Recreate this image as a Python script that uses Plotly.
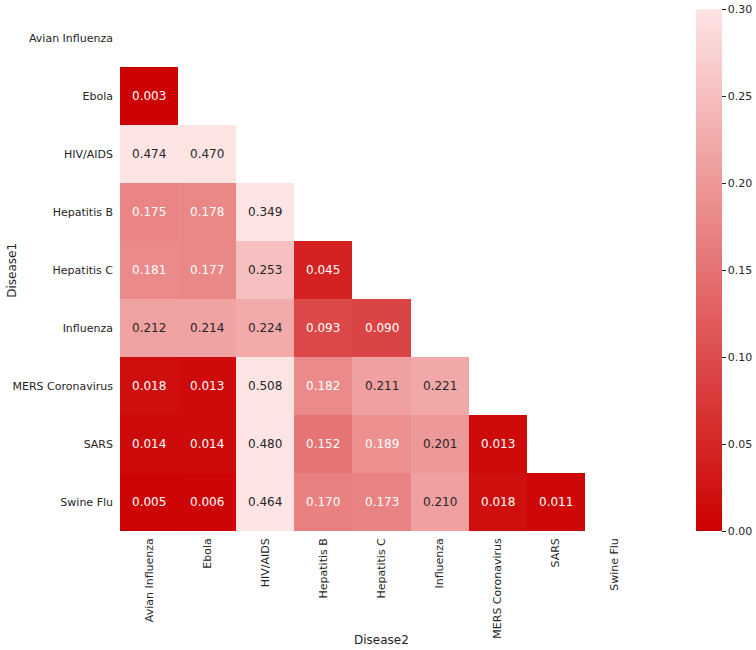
import plotly.graph_objects as go
import numpy as np

diseases = ["Avian Influenza", "Ebola", "HIV/AIDS", "Hepatitis B", "Hepatitis C",
            "Influenza", "MERS Coronavirus", "SARS", "Swine Flu"]

# lower-triangle values, row by row (Disease1 rows, Disease2 columns)
row_avian = []
row_ebola = [0.003]
row_hiv = [0.474, 0.470]
row_hepb = [0.175, 0.178, 0.349]
row_hepc = [0.181, 0.177, 0.253, 0.045]
row_influenza = [0.212, 0.214, 0.224, 0.093, 0.090]
row_mers = [0.018, 0.013, 0.508, 0.182, 0.211, 0.221]
row_sars = [0.014, 0.014, 0.480, 0.152, 0.189, 0.201, 0.013]
row_swine = [0.005, 0.006, 0.464, 0.170, 0.173, 0.210, 0.018, 0.011]

rows = [row_avian, row_ebola, row_hiv, row_hepb, row_hepc,
        row_influenza, row_mers, row_sars, row_swine]

n = len(diseases)
z = np.full((n, n), np.nan)
for i, r in enumerate(rows):
    for j, v in enumerate(r):
        z[i, j] = v

c0 = (204, 0, 0)
c1 = (255, 228, 228)
zmin, zmax = 0.0, 0.30
colorscale = [[0, "rgb(%d,%d,%d)" % c0], [1, "rgb(%d,%d,%d)" % c1]]


def lum(v):
    t = min(max((v - zmin) / (zmax - zmin), 0), 1)
    rgb = [(a + (b - a) * t) / 255 for a, b in zip(c0, c1)]
    lin = [c / 12.92 if c <= 0.03928 else ((c + 0.055) / 1.055) ** 2.4 for c in rgb]
    return 0.2126 * lin[0] + 0.7152 * lin[1] + 0.0722 * lin[2]


fig = go.Figure()
fig.add_trace(go.Heatmap(
    z=z, x=diseases, y=diseases,
    zmin=zmin, zmax=zmax, colorscale=colorscale,
    xgap=0, ygap=0, hoverongaps=False,
    colorbar=dict(
        thickness=26, len=522, lenmode="pixels",
        x=1.101, xanchor="left", xref="paper",
        y=1, yanchor="top", ypad=0, xpad=0,
        tickvals=[0, 0.05, 0.10, 0.15, 0.20, 0.25, 0.30],
        ticktext=["0.00", "0.05", "0.10", "0.15", "0.20", "0.25", "0.30"],
        ticks="outside", ticklen=4, tickcolor="#262626",
        tickfont=dict(family="DejaVu Sans", size=11, color="#262626"),
        outlinewidth=0,
    ),
))

annotations = []
for i, r in enumerate(rows):
    for j, v in enumerate(r):
        col = "#262626" if lum(v) > 0.408 else "white"
        annotations.append(dict(
            x=diseases[j], y=diseases[i], text="%.3f" % v, showarrow=False,
            font=dict(family="DejaVu Sans", size=12, color=col),
            xref="x", yref="y"))

annotations.append(dict(x=0.5, y=-0.209, xref="paper", yref="paper", text="Disease2",
                        showarrow=False, xanchor="center", yanchor="middle",
                        font=dict(family="DejaVu Sans", size=12, color="#262626")))
annotations.append(dict(x=-0.207, y=0.5, xref="paper", yref="paper", text="Disease1",
                        showarrow=False, textangle=-90, xanchor="center", yanchor="middle",
                        font=dict(family="DejaVu Sans", size=12, color="#262626")))

fig.update_layout(
    width=756, height=650,
    margin=dict(l=120, r=113, t=9, b=119, autoexpand=False),
    paper_bgcolor="white", plot_bgcolor="white",
    annotations=annotations,
    xaxis=dict(showgrid=False, zeroline=False, tickangle=-90, ticks="",
               tickfont=dict(family="DejaVu Sans", size=11, color="#262626"),
               showline=False, automargin=False, ticklabelstandoff=4),
    yaxis=dict(showgrid=False, zeroline=False, autorange="reversed", ticks="",
               tickfont=dict(family="DejaVu Sans", size=11, color="#262626"),
               showline=False, automargin=False, ticklabelstandoff=6),
)

fig.write_html("out.html", config={"displayModeBar": False},
               post_script="document.body.style.margin='0';")
